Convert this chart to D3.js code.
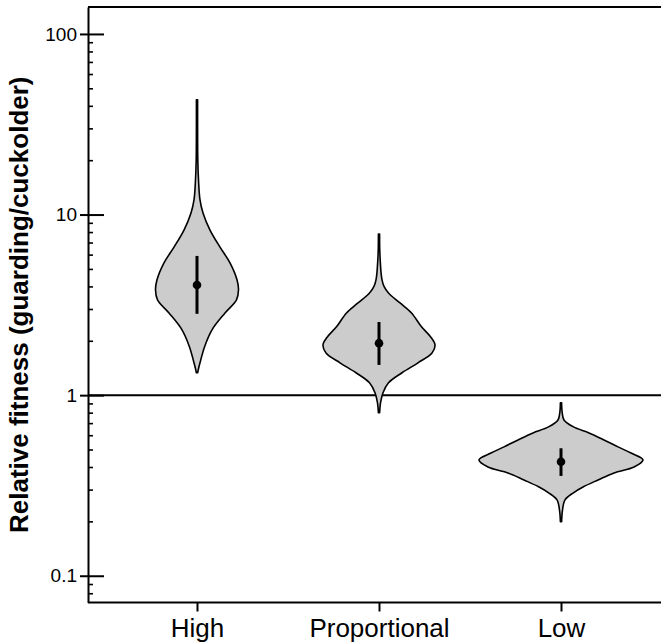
<!DOCTYPE html>
<html>
<head>
<meta charset="utf-8">
<script src="https://cdn.jsdelivr.net/npm/d3@7"></script>
<style>
  body { margin: 0; background: #fff; }
  svg { display: block; font-family: "Liberation Sans", Arial, Helvetica, sans-serif; }
</style>
</head>
<body>
<div id="chart"></div>
<script>
// categories and summary stats (mean with interval)
const groups = ["High", "Proportional", "Low"];
const means = [4.07, 1.94, 0.428];
const ciLow = [2.82, 1.47, 0.357];
const ciHigh = [5.9, 2.54, 0.508];

// violin outlines: fitness value and density (half width)
const highValues = [43.2, 30, 20, 15.6, 12.05, 10.2, 8.2, 6.6, 5.4, 4.35, 3.83, 3.37, 2.85, 2.3, 1.85, 1.51, 1.4, 1.33];
const highDensity = [0.006, 0.006, 0.008, 0.015, 0.03, 0.06, 0.13, 0.23, 0.33, 0.4, 0.415, 0.395, 0.28, 0.15, 0.075, 0.03, 0.015, 0.006];

const propValues = [7.8, 6.5, 5.6, 4.8, 4.35, 4.0, 3.68, 3.24, 2.85, 2.39, 2.1, 1.9, 1.71, 1.51, 1.33, 1.17, 1.03, 0.905, 0.8];
const propDensity = [0.006, 0.007, 0.012, 0.02, 0.03, 0.05, 0.095, 0.21, 0.325, 0.425, 0.517, 0.56, 0.53, 0.39, 0.23, 0.095, 0.04, 0.015, 0.006];

const lowValues = [0.906, 0.8, 0.729, 0.667, 0.618, 0.565, 0.517, 0.478, 0.438, 0.4, 0.371, 0.339, 0.31, 0.287, 0.263, 0.231, 0.199];
const lowDensity = [0.006, 0.012, 0.03, 0.125, 0.28, 0.43, 0.57, 0.7, 0.82, 0.73, 0.53, 0.37, 0.22, 0.12, 0.04, 0.015, 0.006];

const majorTicks = [0.1, 1, 10, 100];
const refValue = 1;

const width = 661, height = 642;
const margin = { left: 88, right: 661, top: 7, bottom: 602.5 };

const violins = [
  d3.zip(highValues, highDensity),
  d3.zip(propValues, propDensity),
  d3.zip(lowValues, lowDensity)
];

const svg = d3.select("#chart").append("svg")
  .attr("width", width)
  .attr("height", height);

const y = d3.scaleLog()
  .domain([0.0711, 141])
  .range([margin.bottom, margin.top]);

const x = d3.scalePoint()
  .domain(groups)
  .range([197, 561]);

const w = d3.scaleLinear().domain([0, 1]).range([0, 100]);

// reference line at 1
svg.append("line")
  .attr("x1", margin.left).attr("x2", margin.right)
  .attr("y1", y(refValue)).attr("y2", y(refValue))
  .attr("stroke", "#000")
  .attr("stroke-width", 2);

// violins
const violinArea = (cx) => d3.area()
  .y(d => y(d[0]))
  .x0(d => cx - w(d[1]))
  .x1(d => cx + w(d[1]))
  .curve(d3.curveCatmullRom);

svg.append("g")
  .selectAll("path")
  .data(violins)
  .join("path")
  .attr("d", (d, i) => violinArea(x(groups[i]))(d))
  .attr("fill", "#cccccc")
  .attr("stroke", "#000")
  .attr("stroke-width", 1.6)
  .attr("stroke-linejoin", "round");

// interval bars + mean points
svg.append("g")
  .selectAll("line")
  .data(groups)
  .join("line")
  .attr("x1", d => x(d)).attr("x2", d => x(d))
  .attr("y1", (d, i) => y(ciLow[i]))
  .attr("y2", (d, i) => y(ciHigh[i]))
  .attr("stroke", "#000")
  .attr("stroke-width", 3);

svg.append("g")
  .selectAll("circle")
  .data(groups)
  .join("circle")
  .attr("cx", d => x(d))
  .attr("cy", (d, i) => y(means[i]))
  .attr("r", 4.3)
  .attr("fill", "#000");

// frame: top line
svg.append("line")
  .attr("x1", margin.left).attr("x2", margin.right)
  .attr("y1", margin.top).attr("y2", margin.top)
  .attr("stroke", "#000")
  .attr("stroke-width", 2);

// y axis (labels + outer part of major ticks)
const yAxis = svg.append("g")
  .attr("transform", `translate(${margin.left},0)`)
  .call(d3.axisLeft(y)
    .tickValues(majorTicks)
    .tickSize(8)
    .tickSizeOuter(0)
    .tickPadding(3)
    .tickFormat(d3.format("~g")));

yAxis.select(".domain").attr("stroke-width", 2);
yAxis.selectAll(".tick line").attr("stroke-width", 2);
yAxis.selectAll(".tick text")
  .attr("font-size", 19)
  .attr("font-family", "'Liberation Sans', Arial, sans-serif")
  .attr("fill", "#000");

// inner part of major ticks
const yIn = svg.append("g")
  .attr("transform", `translate(${margin.left},0)`)
  .call(d3.axisRight(y).tickValues(majorTicks).tickSize(16).tickSizeOuter(0).tickFormat(""));
yIn.select(".domain").remove();
yIn.selectAll(".tick line").attr("stroke-width", 2);

// minor ticks
const minorTicks = y.ticks().filter(v => !majorTicks.some(m => Math.abs(m - v) / m < 1e-6));
const yMinor = svg.append("g")
  .attr("transform", `translate(${margin.left},0)`)
  .call(d3.axisRight(y).tickValues(minorTicks).tickSize(5).tickSizeOuter(0).tickFormat(""));
yMinor.select(".domain").remove();
yMinor.selectAll(".tick line").attr("stroke-width", 1.6);

// x axis
const xAxis = svg.append("g")
  .attr("transform", `translate(0,${margin.bottom})`)
  .call(d3.axisBottom(x).tickSize(9).tickSizeOuter(0).tickPadding(7));

xAxis.select(".domain")
  .attr("d", `M${margin.left},0H${margin.right}`)
  .attr("stroke-width", 2);
xAxis.selectAll(".tick line").attr("stroke-width", 2);
xAxis.selectAll(".tick text")
  .attr("font-size", 26)
  .attr("font-family", "'Liberation Sans', Arial, sans-serif")
  .attr("fill", "#000");

// y title
svg.append("text")
  .attr("transform", `translate(28,${(margin.top + margin.bottom) / 2}) rotate(-90)`)
  .attr("text-anchor", "middle")
  .attr("font-size", 26)
  .attr("font-weight", "bold")
  .text("Relative fitness (guarding/cuckolder)");
</script>
</body>
</html>
